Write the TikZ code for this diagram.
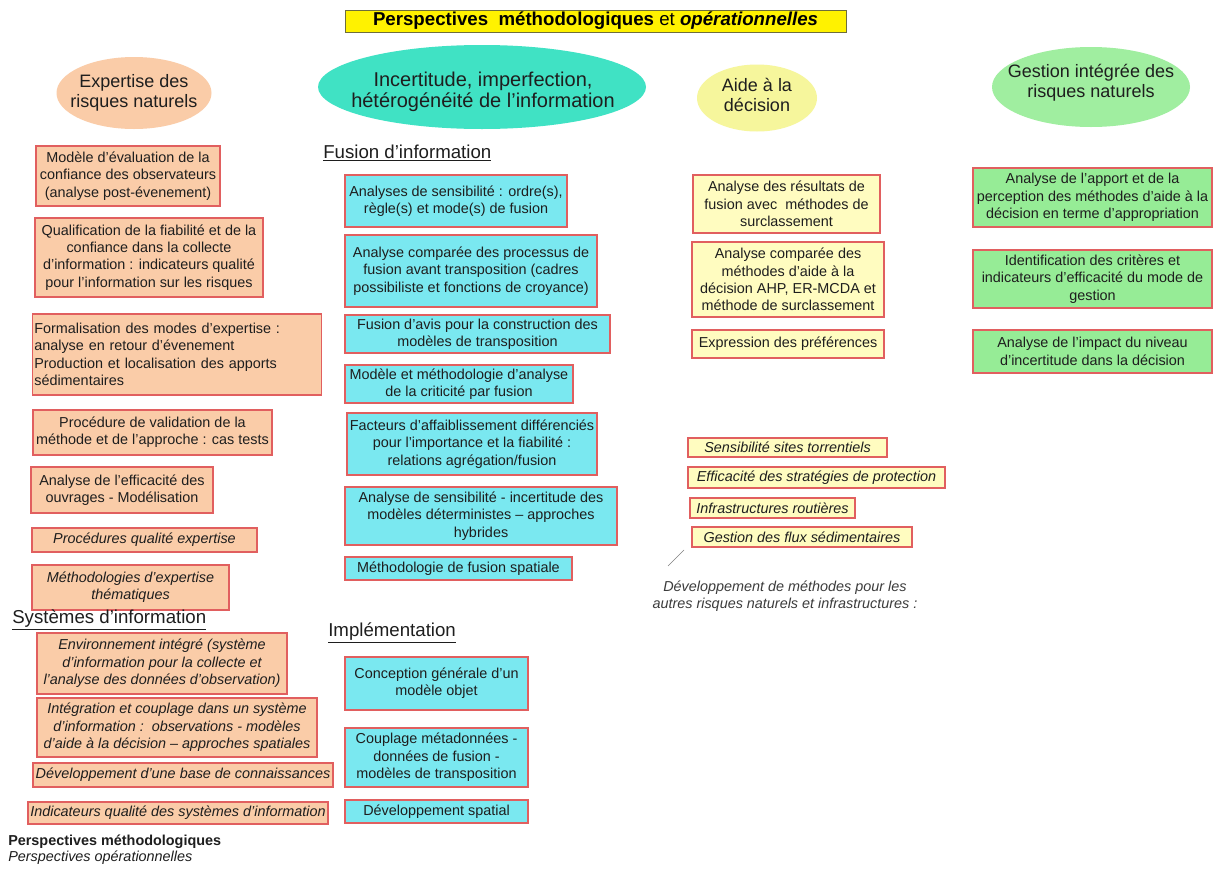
\documentclass[tikz,border=0pt]{standalone}
\usepackage{fontspec}
\setmainfont{Liberation Sans}
\usetikzlibrary{shapes.geometric}
\definecolor{peach}{RGB}{250,204,168}
\definecolor{bordred}{RGB}{225,95,95}
\definecolor{cyanbox}{RGB}{122,232,240}
\definecolor{turq}{RGB}{64,226,196}
\definecolor{yelbox}{RGB}{255,252,192}
\definecolor{yelell}{RGB}{246,246,156}
\definecolor{grnbox}{RGB}{150,236,150}
\definecolor{grnell}{RGB}{160,238,160}
\definecolor{txt}{RGB}{30,30,30}
\newcommand\mybodyfont{\fontsize{10.8pt}{13pt}\selectfont}
\newcommand\myellfont{\fontsize{13.5pt}{15pt}\selectfont}
\newcommand\mkbox[7]{\node[#2, minimum width={(#5-#3)*0.75pt}, minimum height={(#6-#4)*0.75pt}] (#1) at ({(#3+#5)/2},{(#4+#6)/2}) {#7};}
\tikzset{
  basebox/.style={draw=bordred, line width=0.8pt, align=center, inner sep=1pt, text=txt, font=\mybodyfont},
  pbox/.style={basebox, fill=peach},
  pboxi/.style={pbox, font=\mybodyfont\itshape},
  cbox/.style={basebox, fill=cyanbox},
  ybox/.style={basebox, fill=yelbox},
  yboxi/.style={ybox, font=\mybodyfont\itshape},
  gbox/.style={basebox, fill=grnbox},
  ellshape/.style={ellipse, inner sep=0pt},
  elltext/.style={align=center, inner sep=0pt, text=txt, font=\myellfont},
  heading/.style={anchor=west, inner sep=0pt, text=txt, font=\fontsize{14pt}{16pt}\selectfont},
}
\begin{document}
\begin{tikzpicture}[x=0.75pt,y=-0.75pt]
\useasboundingbox (0,0) rectangle (1213,871);
\fill[white] (0,0) rectangle (1213,871);
% title
\node[draw={rgb,255:red,110;green,110;blue,60}, fill=yellow, line width=0.6pt, minimum width={501*0.75pt}, minimum height={22*0.75pt}, inner sep=0pt, font=\fontsize{14pt}{15pt}\selectfont] (title) at (595.5,21) {\textbf{Perspectives\ \ méthodologiques} et \textbf{\textit{opérationnelles}}};
% ellipses
\node[ellshape, fill=peach, minimum width={155*0.75pt}, minimum height={72*0.75pt}] (e1) at (134,93) {};
\node[elltext] (e1t) at (134,92.5) {Expertise des\\risques naturels};
\node[ellshape, fill=turq, minimum width={328*0.75pt}, minimum height={84*0.75pt}] (e2) at (482,87) {};
\node[elltext, font=\fontsize{15pt}{15.5pt}\selectfont] (e2t) at (483,92) {Incertitude, imperfection,\\hétérogénéité de l'information};
\node[ellshape, fill=yelell, minimum width={120*0.75pt}, minimum height={67*0.75pt}] (e3) at (757,98) {};
\node[elltext] (e3t) at (757,95) {Aide à la\\décision};
\node[ellshape, fill=grnell, minimum width={198*0.75pt}, minimum height={80*0.75pt}] (e4) at (1091,87) {};
\node[elltext] (e4t) at (1091,83) {Gestion intégrée des\\risques naturels};
% left column
\mkbox{L1}{pbox}{36}{146}{220}{206}{Modèle d'évaluation de la\\confiance des observateurs\\(analyse post-évenement)}
\mkbox{L2}{pbox}{35}{218}{263}{297}{Qualification de la fiabilité et de la\\confiance dans la collecte\\d'information : indicateurs qualité\\pour l'information sur les risques}
\node[pbox, align=left, text width=214pt, inner xsep=1.5pt, minimum height={81*0.75pt}] (L3) at (177,354.5) {Formalisation des modes d'expertise :\\analyse en retour d'évenement\\Production et localisation des apports\\sédimentaires};
\mkbox{L4}{pbox}{33}{410}{272}{455}{Procédure de validation de la\\méthode et de l'approche : cas tests}
\mkbox{L5}{pbox}{31}{467}{213}{513}{Analyse de l'efficacité des\\ouvrages - Modélisation}
\mkbox{L6}{pboxi}{32}{528}{257}{552}{Procédures qualité expertise}
\mkbox{L7}{pboxi}{32}{565}{229}{610}{Méthodologies d'expertise\\thématiques}
\node[heading] (hsi) at (12,620) {\underline{Systèmes d'information}};
\mkbox{S1}{pboxi}{37}{633}{287}{694}{Environnement intégré (système\\d'information pour la collecte et\\l'analyse des données d'observation)}
\mkbox{S2}{pboxi}{37}{698}{317}{757}{Intégration et couplage dans un système\\d'information :\ \ observations - modèles\\d'aide à la décision – approches spatiales}
\mkbox{S3}{pboxi}{33}{763}{333}{787}{Développement d'une base de connaissances}
\mkbox{S4}{pboxi}{28}{802}{328}{824}{Indicateurs qualité des systèmes d'information}
\node[anchor=west, inner sep=0pt, text=txt, font=\mybodyfont\bfseries] (leg1) at (8,842) {Perspectives méthodologiques};
\node[anchor=west, inner sep=0pt, text=txt, font=\mybodyfont\itshape] (leg2) at (8,858) {Perspectives opérationnelles};
% middle column
\node[heading] (hfu) at (323,153) {\underline{Fusion d'information}};
\mkbox{M1}{cbox}{345}{175}{567}{227}{Analyses de sensibilité : ordre(s),\\règle(s) et mode(s) de fusion}
\mkbox{M2}{cbox}{345}{235}{597}{307}{Analyse comparée des processus de\\fusion avant transposition (cadres\\possibiliste et fonctions de croyance)}
\mkbox{M3}{cbox}{345}{315}{610}{353}{Fusion d'avis pour la construction des\\modèles de transposition}
\mkbox{M4}{cbox}{345}{365}{573}{403}{Modèle et méthodologie d'analyse\\de la criticité par fusion}
\mkbox{M5}{cbox}{347}{413}{597}{475}{Facteurs d'affaiblissement différenciés\\pour l'importance et la fiabilité :\\relations agrégation/fusion}
\mkbox{M6}{cbox}{345}{487}{617}{545}{Analyse de sensibilité - incertitude des\\modèles déterministes – approches\\hybrides}
\mkbox{M7}{cbox}{345}{557}{572}{580}{Méthodologie de fusion spatiale}
\node[heading] (him) at (328,633) {\underline{Implémentation}};
\mkbox{I1}{cbox}{345}{657}{528}{710}{Conception générale d'un\\modèle objet}
\mkbox{I2}{cbox}{345}{728}{528}{787}{Couplage métadonnées -\\données de fusion -\\modèles de transposition}
\mkbox{I3}{cbox}{345}{800}{528}{823}{Développement spatial}
% aide column
\mkbox{A1}{ybox}{693}{175}{880}{233}{Analyse des résultats de\\fusion avec\ \ méthodes de\\surclassement}
\mkbox{A2}{ybox}{692}{242}{884}{317}{Analyse comparée des\\méthodes d'aide à la\\décision AHP, ER-MCDA et\\méthode de surclassement}
\mkbox{A3}{ybox}{692}{330}{884}{358}{Expression des préférences}
\mkbox{B1}{yboxi}{688}{438}{887}{457}{Sensibilité sites torrentiels}
\mkbox{B2}{yboxi}{688}{467}{945}{488}{Efficacité des stratégies de protection}
\mkbox{B3}{yboxi}{690}{498}{855}{518}{Infrastructures routières}
\mkbox{B4}{yboxi}{692}{527}{912}{547}{Gestion des flux sédimentaires}
\coordinate (sl1) at (668,566);
\coordinate (sl2) at (684,550);
\draw[gray, line width=0.5pt] (sl1) -- (sl2);
\node[align=center, inner sep=0pt, text={rgb,255:red,60;green,60;blue,60}, font=\mybodyfont\itshape] (dev) at (785,596) {Développement de méthodes pour les\\autres risques naturels et infrastructures :};
% gestion column
\mkbox{G1}{gbox}{973}{168}{1212}{227}{Analyse de l'apport et de la\\perception des méthodes d'aide à la\\décision en terme d'appropriation}
\mkbox{G2}{gbox}{973}{250}{1212}{308}{Identification des critères et\\indicateurs d'efficacité du mode de\\gestion}
\mkbox{G3}{gbox}{973}{330}{1212}{373}{Analyse de l'impact du niveau\\d'incertitude dans la décision}
\end{tikzpicture}
\end{document}
